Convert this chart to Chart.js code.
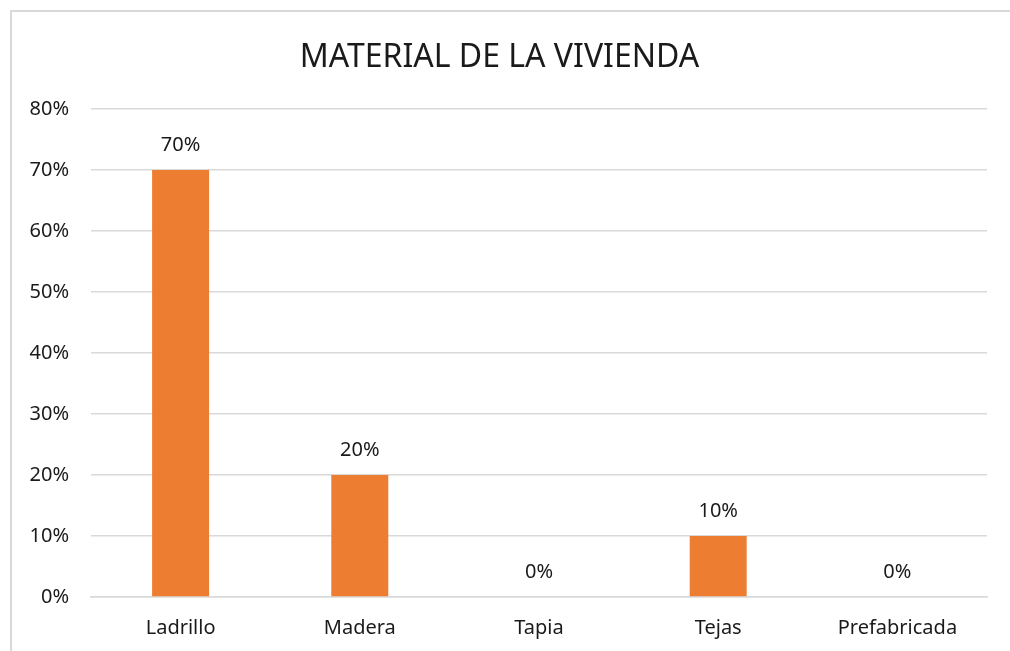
<!DOCTYPE html>
<html>
<head>
<meta charset="utf-8">
<script src="https://cdn.jsdelivr.net/npm/chart.js@4.4.1/dist/chart.umd.min.js"></script>
<style>
  html, body { margin: 0; padding: 0; background: #fff; overflow: hidden; }
  #frame {
    position: absolute; left: 10px; top: 10px;
    width: 1100px; height: 700px;
    border-top: 2px solid #d9d9d9; border-left: 2px solid #d9d9d9;
  }
  #chart-wrap { position: relative; width: 998px; height: 639px; }
</style>
</head>
<body>
<div id="frame"><div id="chart-wrap"><canvas id="material-chart"></canvas></div></div>
<script>
const chartTitle = "MATERIAL DE LA VIVIENDA";
const categories = ["Ladrillo", "Madera", "Tapia", "Tejas", "Prefabricada"];
const percentValues = [70, 20, 0, 10, 0];
const yTicks = [0, 10, 20, 30, 40, 50, 60, 70, 80];

const fontFamily = "'Noto Sans', 'Open Sans', sans-serif";
const textColor = "#1a1a1a";
const gridColor = "#d9d9d9";

// draws the "70%" style labels above each bar
const barLabels = {
  id: "barLabels",
  afterDatasetsDraw(chart) {
    const ctx = chart.ctx;
    const meta = chart.getDatasetMeta(0);
    ctx.save();
    ctx.font = `20px ${fontFamily}`;
    ctx.fillStyle = textColor;
    ctx.textAlign = "center";
    ctx.textBaseline = "middle";
    meta.data.forEach((bar, i) => {
      ctx.fillText(`${percentValues[i]}%`, bar.x, bar.y - 25);
    });
    ctx.restore();
  }
};

new Chart(document.getElementById("material-chart"), {
  type: "bar",
  data: {
    labels: categories,
    datasets: [
      {
        data: percentValues,
        backgroundColor: "#ED7D31",
        categoryPercentage: 1,
        barPercentage: 0.318
      }
    ]
  },
  options: {
    responsive: true,
    maintainAspectRatio: false,
    animation: false,
    layout: { padding: { left: 0, right: 23, top: 0, bottom: 0 } },
    plugins: {
      legend: { display: false },
      tooltip: { enabled: false },
      title: {
        display: true,
        text: chartTitle,
        color: textColor,
        font: { family: fontFamily, size: 32, weight: "normal", lineHeight: 1.2 },
        padding: { top: 27, bottom: 31.6 }
      }
    },
    scales: {
      x: {
        grid: { display: false, drawTicks: false },
        border: { color: gridColor, width: 1.5 },
        ticks: { color: textColor, font: { family: fontFamily, size: 20 }, padding: 19 },
        afterFit(scale) { scale.height = 54; }
      },
      y: {
        min: 0,
        max: 80,
        afterBuildTicks(scale) { scale.ticks = yTicks.map((v) => ({ value: v })); },
        grid: { color: gridColor, lineWidth: 1.5, drawTicks: false },
        border: { display: false },
        ticks: {
          color: textColor,
          font: { family: fontFamily, size: 20 },
          padding: 22,
          callback: (value) => `${value}%`
        },
        afterFit(scale) { scale.width = 79; }
      }
    }
  },
  plugins: [barLabels]
});
</script>
</body>
</html>
